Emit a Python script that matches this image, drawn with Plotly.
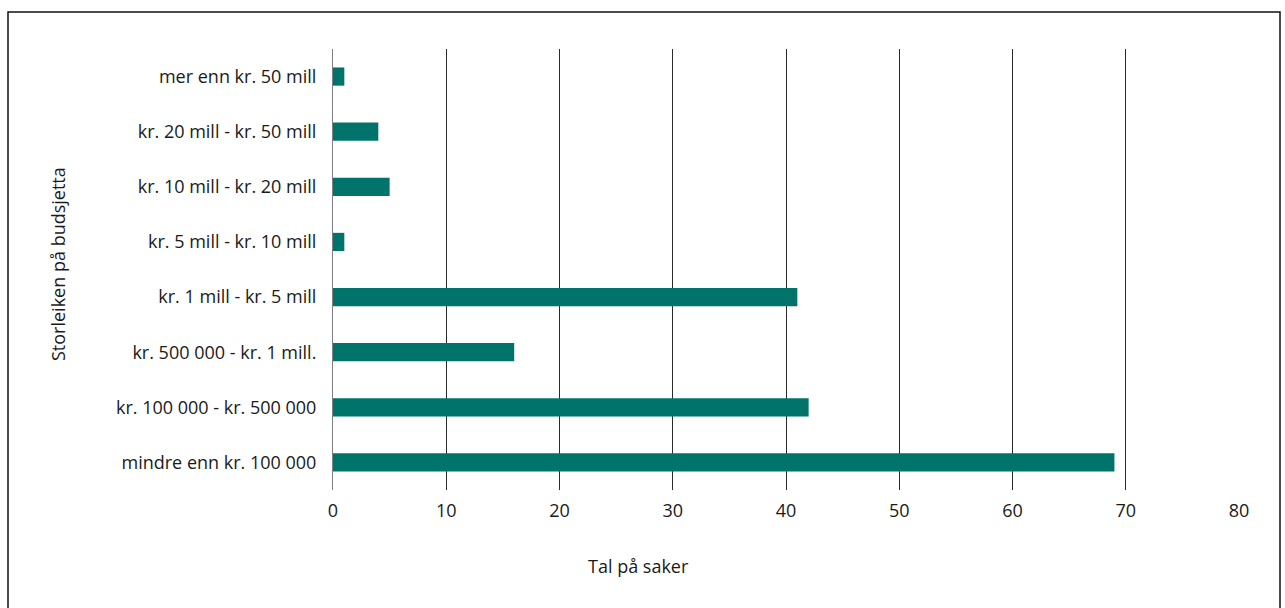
import plotly.graph_objects as go

# Budget size categories (bottom to top) and number of cases
categories = [
    "mindre enn kr. 100 000",
    "kr. 100 000 - kr. 500 000",
    "kr. 500 000 - kr. 1 mill.",
    "kr. 1 mill - kr. 5 mill",
    "kr. 5 mill - kr. 10 mill",
    "kr. 10 mill - kr. 20 mill",
    "kr. 20 mill - kr. 50 mill",
    "mer enn kr. 50 mill",
]
counts = [69, 42, 16, 41, 1, 5, 4, 1]
x_ticks = [0, 10, 20, 30, 40, 50, 60, 70, 80]

BAR_COLOR = "#00746b"
FONT = "Open Sans"
FONT_SIZE = 18

fig = go.Figure(
    go.Bar(
        x=counts,
        y=categories,
        orientation="h",
        marker=dict(color=BAR_COLOR, line=dict(width=0)),
        width=0.33,
    )
)

fig.update_layout(
    width=1285,
    height=608,
    margin=dict(l=333, r=46, t=49, b=118),
    paper_bgcolor="white",
    plot_bgcolor="white",
    showlegend=False,
    font=dict(family=FONT, size=FONT_SIZE, color="#1a1a1a"),
    xaxis=dict(
        range=[0, 80],
        tickvals=x_ticks,
        showgrid=True,
        gridcolor="#2a2a2a",
        gridwidth=1,
        zeroline=False,
        showline=False,
        ticks="",
        ticklabelstandoff=8,
        tickfont=dict(size=FONT_SIZE),
    ),
    yaxis=dict(
        categoryorder="array",
        categoryarray=categories,
        showgrid=False,
        showline=True,
        linecolor="#7f7f7f",
        linewidth=1,
        ticks="",
        ticklabelstandoff=12,
        tickfont=dict(size=FONT_SIZE),
    ),
    annotations=[
        dict(
            text="Tal på saker",
            xref="paper", yref="paper",
            x=(638 - 333) / 906, y=(490 - 566) / 441,
            xanchor="center", yanchor="middle",
            showarrow=False, font=dict(size=FONT_SIZE),
        ),
        dict(
            text="Storleiken på budsjetta",
            xref="paper", yref="paper",
            x=(58 - 333) / 906, y=(490 - 264) / 441,
            xanchor="center", yanchor="middle",
            textangle=-90,
            showarrow=False, font=dict(size=FONT_SIZE),
        ),
    ],
    shapes=[
        dict(
            type="rect",
            xref="paper", yref="paper",
            x0=(8 - 333) / 906, x1=(1280 - 333) / 906,
            y0=(490 - 640) / 441, y1=(490 - 12) / 441,
            line=dict(color="#111111", width=1.5),
            fillcolor="rgba(0,0,0,0)",
            layer="below",
        )
    ],
)

fig.write_html("out.html")
